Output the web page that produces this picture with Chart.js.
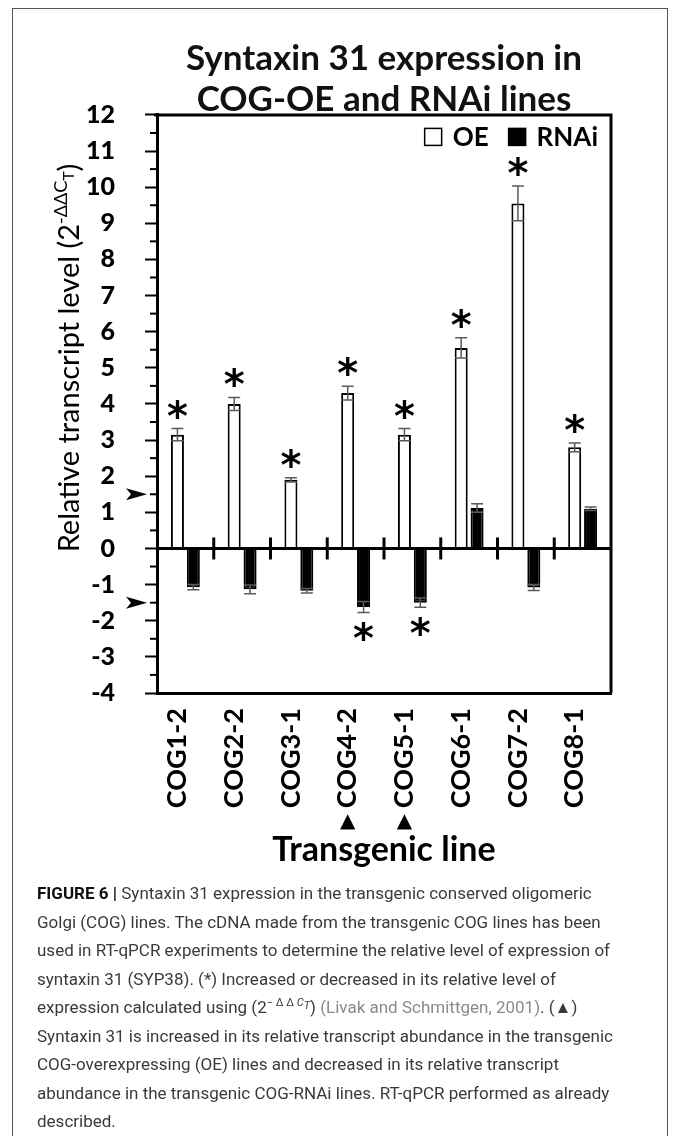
<!DOCTYPE html>
<html>
<head>
<meta charset="utf-8">
<script src="https://cdn.jsdelivr.net/npm/chart.js@4.4.1/dist/chart.umd.min.js"></script>
<style>
  html, body { margin: 0; padding: 0; background: #fff; }
  body { width: 673px; height: 1136px; position: relative; overflow: hidden; }
  #frame { position: absolute; left: 12px; top: 8px; width: 656px; height: 1160px; border: 1px solid #555; box-sizing: border-box; }
  #chart { position: absolute; left: 0; top: 0; }
  #cap { position: absolute; left: 37px; top: 879px; font-family: Roboto, "Liberation Sans", sans-serif; font-size: 17px; line-height: 28.5px; color: #3a3a3a; white-space: nowrap; }
  #cap b { color: #111; }
  #cap .ref { color: #8a8a8a; }
  #cap sup { font-size: 11px; line-height: 0; vertical-align: 7px; }
  #cap sub { font-size: 11px; line-height: 0; vertical-align: -3px; }
</style>
</head>
<body>
<div id="frame"></div>
<canvas id="chart" width="673" height="880"></canvas>
<div id="cap">
<b>FIGURE 6 |</b> Syntaxin 31 expression in the transgenic conserved oligomeric<br>
Golgi (COG) lines. The cDNA made from the transgenic COG lines has been<br>
used in RT-qPCR experiments to determine the relative level of expression of<br>
syntaxin 31 (SYP38). (*) Increased or decreased in its relative level of<br>
expression calculated using (2<sup>− Δ Δ <i>C</i><sub><i>T</i></sub></sup>) <span class="ref">(Livak and Schmittgen, 2001)</span>. (▲)<br>
Syntaxin 31 is increased in its relative transcript abundance in the transgenic<br>
COG-overexpressing (OE) lines and decreased in its relative transcript<br>
abundance in the transgenic COG-RNAi lines. RT-qPCR performed as already<br>
described.
</div>
<script>
// ---- data ----
const CATEGORIES = ['COG1-2', 'COG2-2', 'COG3-1', 'COG4-2', 'COG5-1', 'COG6-1', 'COG7-2', 'COG8-1'];
const OE_VALUES  = [3.15, 4.0, 1.9, 4.3, 3.15, 5.55, 9.55, 2.8];
const OE_ERRORS  = [0.17, 0.18, 0.06, 0.19, 0.17, 0.28, 0.48, 0.12];
const RNAI_VALUES = [-1.07, -1.13, -1.17, -1.62, -1.5, 1.12, -1.08, 1.1];
const RNAI_ERRORS = [0.07, 0.12, 0.06, 0.15, 0.13, 0.12, 0.08, 0.05];
const OE_SIGNIFICANT   = [true, true, true, true, true, true, true, true];
const RNAI_SIGNIFICANT = [false, false, false, true, true, false, false, false];
const MARKED_LINES = [false, false, false, true, true, false, false, false];
const ARROW_LEVELS = [1.5, -1.5];
const Y_MIN = -4, Y_MAX = 12, Y_STEP = 1;
const TITLE_LINES = ['Syntaxin 31 expression in', 'COG-OE and RNAi lines'];
const X_TITLE = 'Transgenic line';
const Y_TITLE_MAIN = 'Relative transcript level (2';
const Y_TITLE_SUP = '-ΔΔC';
const Y_TITLE_SUB = 'T';
const Y_TITLE_END = ')';
const SERIES_NAMES = ['OE', 'RNAi'];

const FONT = 'Lato, "DejaVu Sans", sans-serif';

const overlay = {
  id: 'overlay',
  afterDatasetsDraw(chart) {
    const { ctx, chartArea: a, scales: { x, y } } = chart;
    ctx.save();
    const y0 = y.getPixelForValue(0);
    // zero line
    ctx.strokeStyle = '#000';
    ctx.lineWidth = 3;
    ctx.beginPath();
    ctx.moveTo(a.left, y0); ctx.lineTo(a.right, y0);
    ctx.stroke();
    // category separator marks across the zero line
    for (let i = 0; i < CATEGORIES.length - 1; i++) {
      const bx = (x.getPixelForTick(i) + x.getPixelForTick(i + 1)) / 2;
      ctx.beginPath(); ctx.moveTo(bx, y0 - 11); ctx.lineTo(bx, y0 + 11); ctx.stroke();
    }
    // top and right frame
    ctx.beginPath();
    ctx.moveTo(a.left - 3, a.top); ctx.lineTo(a.right, a.top); ctx.lineTo(a.right, a.bottom);
    ctx.stroke();
    // minor ticks
    ctx.lineWidth = 2;
    y.ticks.forEach((t, i) => {
      if (i === y.ticks.length - 1) return;
      const py = y.getPixelForValue(t.value + Y_STEP / 2);
      ctx.beginPath(); ctx.moveTo(a.left - 7, py); ctx.lineTo(a.left, py); ctx.stroke();
    });
    // error bars
    const drawErr = (meta, vals, errs) => {
      meta.data.forEach((bar, i) => {
        const yt = y.getPixelForValue(vals[i] + errs[i]);
        const yb = y.getPixelForValue(vals[i] - errs[i]);
        ctx.strokeStyle = '#5a5a5a';
        ctx.lineWidth = 1.5;
        ctx.beginPath();
        ctx.moveTo(bar.x, yt); ctx.lineTo(bar.x, yb);
        ctx.moveTo(bar.x - 6, yt); ctx.lineTo(bar.x + 6, yt);
        ctx.moveTo(bar.x - 6, yb); ctx.lineTo(bar.x + 6, yb);
        ctx.stroke();
      });
    };
    drawErr(chart.getDatasetMeta(0), OE_VALUES, OE_ERRORS);
    drawErr(chart.getDatasetMeta(1), RNAI_VALUES, RNAI_ERRORS);
    // significance asterisks
    ctx.fillStyle = '#000';
    ctx.font = 'bold 40px "DejaVu Sans", sans-serif';
    ctx.textAlign = 'center';
    ctx.textBaseline = 'alphabetic';
    const m = ctx.measureText('*');
    const shift = (m.actualBoundingBoxAscent - m.actualBoundingBoxDescent) / 2;
    const star = (bx, vals, errs, sig, i) => {
      if (!sig[i]) return;
      let cy;
      if (vals[i] >= 0) cy = y.getPixelForValue(vals[i] + errs[i]) - 20;
      else cy = y.getPixelForValue(vals[i] - errs[i]) + 19;
      ctx.fillText('*', bx, cy + shift);
    };
    chart.getDatasetMeta(0).data.forEach((b, i) => star(b.x, OE_VALUES, OE_ERRORS, OE_SIGNIFICANT, i));
    chart.getDatasetMeta(1).data.forEach((b, i) => star(b.x, RNAI_VALUES, RNAI_ERRORS, RNAI_SIGNIFICANT, i));

    // legend inside the plot, top right
    const lf = 'bold 26px ' + FONT;
    ctx.font = lf;
    const box = 17, gapBT = 11, gapItems = 20;
    const widths = SERIES_NAMES.map(n => ctx.measureText(n).width);
    const totalW = widths.reduce((s, w) => s + box + gapBT + w, 0) + gapItems * (SERIES_NAMES.length - 1);
    let lx = a.right - 13 - totalW;
    const ly = a.top + 22;
    ctx.textAlign = 'left';
    ctx.textBaseline = 'middle';
    SERIES_NAMES.forEach((n, i) => {
      const ds = chart.data.datasets[i];
      ctx.fillStyle = ds.backgroundColor;
      ctx.fillRect(lx, ly - box / 2, box, box);
      ctx.strokeStyle = ds.borderColor;
      ctx.lineWidth = 1.5;
      ctx.strokeRect(lx, ly - box / 2, box, box);
      lx += box + gapBT;
      ctx.fillStyle = '#000';
      ctx.font = lf;
      ctx.fillText(n, lx, ly + 1);
      lx += widths[i] + gapItems;
    });
    ctx.restore();
  },
  afterDraw(chart) {
    const { ctx, chartArea: a, scales: { x, y } } = chart;
    ctx.save();
    ctx.fillStyle = '#000';
    // arrows on the y axis
    ARROW_LEVELS.forEach(v => {
      const py = y.getPixelForValue(v);
      const tip = a.left - 10;
      ctx.beginPath();
      ctx.moveTo(tip, py);
      ctx.lineTo(tip - 21, py - 6);
      ctx.lineTo(tip - 16, py);
      ctx.lineTo(tip - 21, py + 6);
      ctx.closePath();
      ctx.fill();
    });
    // triangles under marked category labels
    ctx.font = '20px "DejaVu Sans", sans-serif';
    ctx.textAlign = 'center';
    ctx.textBaseline = 'middle';
    MARKED_LINES.forEach((mk, i) => {
      if (!mk) return;
      ctx.fillText('▲', x.getPixelForTick(i) - 8, 822);
    });
    // y axis title with superscript/subscript
    const mainFont = '29px ' + FONT;
    const supFont = '18px ' + FONT;
    const subFont = '16px ' + FONT;
    ctx.font = mainFont; const w1 = ctx.measureText(Y_TITLE_MAIN).width; const w4 = ctx.measureText(Y_TITLE_END).width;
    ctx.font = supFont; const w2 = ctx.measureText(Y_TITLE_SUP).width;
    ctx.font = subFont; const w3 = ctx.measureText(Y_TITLE_SUB).width;
    const total = w1 + w2 + w3 + w4;
    const cy = 358;
    ctx.translate(79, cy);
    ctx.rotate(-Math.PI / 2);
    ctx.textAlign = 'left';
    ctx.textBaseline = 'alphabetic';
    let px = -total / 2;
    ctx.font = mainFont; ctx.fillText(Y_TITLE_MAIN, px, 0); px += w1;
    ctx.font = supFont; ctx.fillText(Y_TITLE_SUP, px, -12); px += w2;
    ctx.font = subFont; ctx.fillText(Y_TITLE_SUB, px, -5); px += w3;
    ctx.font = mainFont; ctx.fillText(Y_TITLE_END, px, 0);
    ctx.restore();
  }
};

new Chart(document.getElementById('chart'), {
  type: 'bar',
  data: {
    labels: CATEGORIES,
    datasets: [
      { label: SERIES_NAMES[0], data: OE_VALUES, backgroundColor: '#ffffff', borderColor: '#000000', borderWidth: 2,
        categoryPercentage: 0.56, barPercentage: 0.82 },
      { label: SERIES_NAMES[1], data: RNAI_VALUES, backgroundColor: '#000000', borderColor: '#000000', borderWidth: 2,
        categoryPercentage: 0.56, barPercentage: 0.82 }
    ]
  },
  options: {
    responsive: false,
    animation: false,
    devicePixelRatio: 1,
    layout: { padding: { left: 40, right: 62, top: 0, bottom: 0 } },
    plugins: {
      title: {
        display: true, text: TITLE_LINES, fullSize: false, color: '#111',
        font: { family: FONT, weight: 'bold', size: 35, lineHeight: 1.17 },
        padding: { top: 38, bottom: -5 }
      },
      legend: { display: false },
      tooltip: { enabled: false }
    },
    scales: {
      x: {
        grid: { display: false, drawTicks: false },
        border: { display: true, color: '#000', width: 3 },
        ticks: { minRotation: 90, maxRotation: 90, padding: 15, labelOffset: -8, color: '#000',
                 font: { family: FONT, weight: 'bold', size: 27 } },
        title: { display: true, text: X_TITLE, color: '#000',
                 font: { family: FONT, weight: 'bold', size: 34, lineHeight: 1.2 },
                 padding: { top: 0, bottom: 10 } },
        afterFit(s) { s.height = 187; }
      },
      y: {
        min: Y_MIN, max: Y_MAX,
        ticks: { stepSize: Y_STEP, padding: 30, color: '#000',
                 font: { family: FONT, weight: 900, size: 25 } },
        grid: { drawOnChartArea: false, tickColor: '#000', tickLength: 12, tickWidth: 2 },
        border: { display: true, color: '#000', width: 3 },
        afterFit(s) { s.width = 117; }
      }
    }
  },
  plugins: [overlay]
});
</script>
</body>
</html>
